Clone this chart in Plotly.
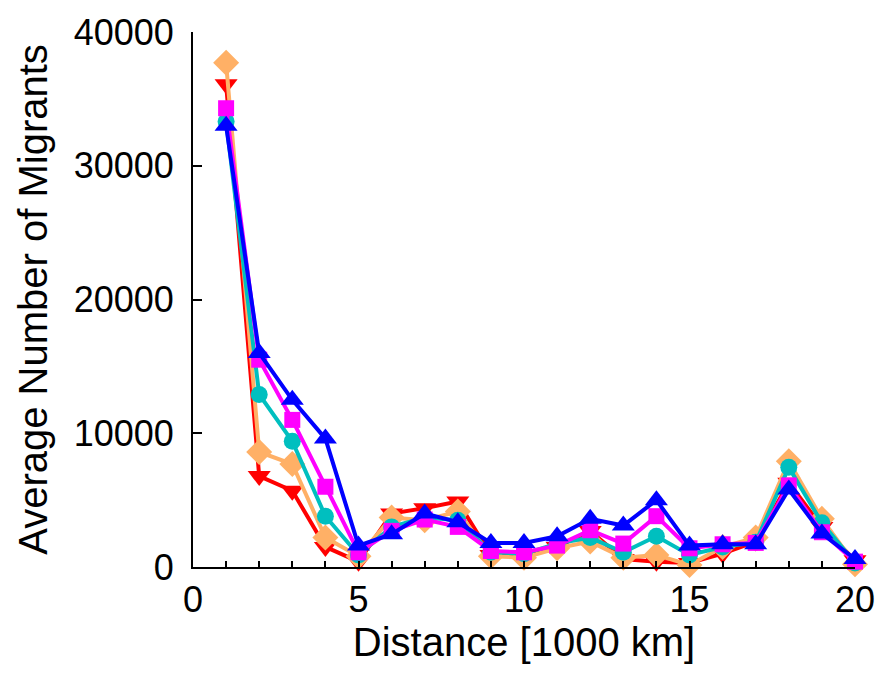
import plotly.graph_objects as go

distance = list(range(1, 21))
red_vals = [36100, 6800, 5700, 1500, 400, 4000, 4400, 4900, 900, 900, 1500, 2700, 600, 400, 300, 1000, 1900, 6300, 3000, 500]
orange_vals = [37700, 8600, 7700, 2200, 800, 3700, 3500, 4150, 800, 700, 1400, 1900, 700, 900, 150, 1500, 2200, 7900, 3600, 200]
cyan_vals = [33300, 12900, 9400, 3800, 900, 3000, 3700, 3500, 1100, 1000, 1750, 2200, 1100, 2300, 900, 1500, 1850, 7450, 3300, 300]
magenta_vals = [34300, 15500, 11000, 6000, 1100, 2700, 3550, 3000, 1200, 1100, 1600, 2750, 1750, 3800, 1400, 1700, 1800, 6100, 2600, 400]
blue_vals = [33000, 16000, 12500, 9600, 1600, 2450, 4000, 3350, 1800, 1800, 2300, 3600, 3100, 5000, 1600, 1700, 1700, 5800, 2500, 600]

series = [
    ("red", red_vals, "#FF0000", "triangle-down", 20),
    ("orange", orange_vals, "#FFB066", "diamond", 20),
    ("cyan", cyan_vals, "#00BFBF", "circle", 17),
    ("magenta", magenta_vals, "#FF00FF", "square", 16),
    ("blue", blue_vals, "#0000FF", "triangle-up", 20),
]

fig = go.Figure()
for name, vals, color, sym, sz in series:
    fig.add_trace(go.Scatter(
        x=distance, y=vals, mode="lines+markers", name=name,
        line=dict(color=color, width=4),
        marker=dict(symbol=sym, size=sz, color=color, line=dict(width=0)),
        cliponaxis=False, showlegend=False,
    ))

font_family = "Liberation Sans, Arial, Helvetica, sans-serif"
fig.update_layout(
    width=887, height=675,
    margin=dict(l=193, r=24, t=26, b=108),
    paper_bgcolor="white", plot_bgcolor="white",
    font=dict(family=font_family, size=36, color="black"),
    xaxis=dict(
        range=[0, 20], tickmode="linear", tick0=0, dtick=5,
        ticks="inside", ticklen=6, tickwidth=1.5, tickcolor="black",
        minor=dict(dtick=1, ticks="inside", ticklen=6, tickwidth=1.5, tickcolor="black"),
        showline=True, linecolor="black", linewidth=2,
        showgrid=False, zeroline=False,
        tickfont=dict(size=36),
        title=dict(text="Distance [1000 km]", font=dict(size=40), standoff=6),
    ),
    yaxis=dict(
        range=[0, 40000], tickmode="linear", tick0=0, dtick=10000,
        tickformat="d",
        ticks="inside", ticklen=9, tickwidth=2, tickcolor="black",
        ticklabelstandoff=10,
        showline=True, linecolor="black", linewidth=2,
        showgrid=False, zeroline=False,
        tickfont=dict(size=36),
        title=dict(text="Average Number of Migrants", font=dict(size=40), standoff=14),
    ),
)

fig.write_html("out.html")
